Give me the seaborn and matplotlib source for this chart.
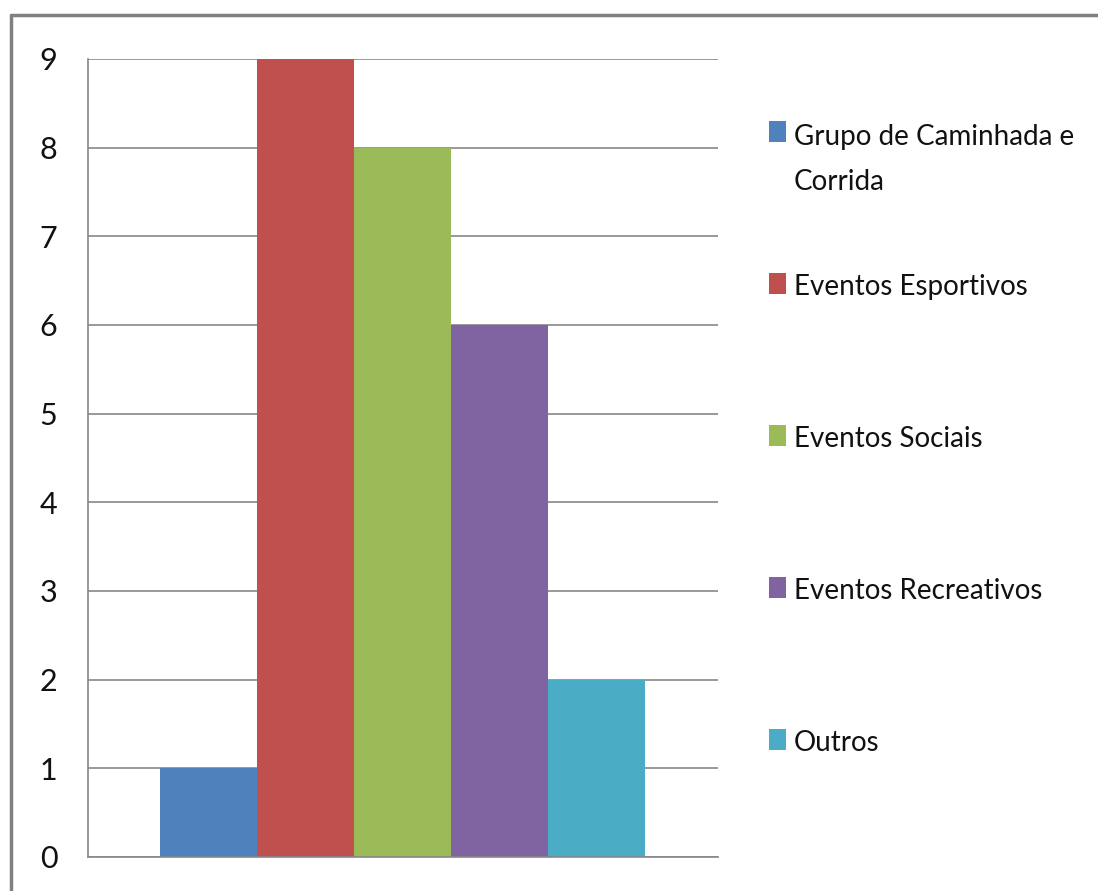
import matplotlib
matplotlib.use('Agg')
import pandas as pd
import seaborn as sns
from matplotlib import pyplot as plt
from matplotlib.patches import Rectangle
from matplotlib.lines import Line2D

categorias = ['Grupo de Caminhada e Corrida', 'Eventos Esportivos', 'Eventos Sociais',
              'Eventos Recreativos', 'Outros']
rotulos = ['Grupo de Caminhada e\nCorrida', 'Eventos Esportivos', 'Eventos Sociais',
           'Eventos Recreativos', 'Outros']
valores = [1, 9, 8, 6, 2]
cores = ['#4F81BD', '#C0504D', '#9BBB59', '#8064A2', '#4BACC6']
yticks = list(range(0, 10))

sns.set_style('white')
plt.rcParams['font.family'] = ['Lato', 'DejaVu Sans']

W, H = 1098, 891
fig = plt.figure(figsize=(W / 100, H / 100), dpi=100)
ax = fig.add_axes([88 / W, 1 - 857 / H, 630 / W, 798 / H])

df = pd.DataFrame({'cat': categorias, 'val': valores})
sns.barplot(data=df, x='cat', y='val', hue='cat', palette=cores, width=1.0,
            saturation=1, legend=False, linewidth=0, ax=ax)

ax.set_xlim(-1.245, 5.255)
ax.set_ylim(0, 9)
ax.set_yticks(yticks)
ax.set_xticks([])
ax.set_xlabel('')
ax.set_ylabel('')
ax.yaxis.grid(True, color='#878787', linewidth=1.2)
ax.set_axisbelow(True)
for s in ['top', 'right']:
    ax.spines[s].set_visible(False)
for s in ['left', 'bottom']:
    ax.spines[s].set_color('#878787')
    ax.spines[s].set_linewidth(1.2)
ax.tick_params(axis='y', length=0, pad=22, labelsize=22, labelcolor='#111111')

# legenda manual (estilo Excel)
for i, (rot, cor) in enumerate(zip(rotulos, cores)):
    base = 143 + i * 152
    nl = rot.count('\n')
    fig.add_artist(Rectangle((769 / W, 1 - (base - 1) / H), 17 / W, 21 / H,
                             transform=fig.transFigure, facecolor=cor, edgecolor='none'))
    fig.text(794 / W, 1 - (base + 47 * nl) / H, rot, fontsize=20, color='#111111',
             va='baseline', ha='left', linespacing=1.9)

# moldura
fig.add_artist(Line2D([11 / W, 11 / W], [0, 1 - 15 / H], transform=fig.transFigure,
                      color='#808080', linewidth=2.5))
fig.add_artist(Line2D([11 / W, 1], [1 - 15 / H, 1 - 15 / H], transform=fig.transFigure,
                      color='#808080', linewidth=2.5))

fig.savefig('out.png', dpi=100)
